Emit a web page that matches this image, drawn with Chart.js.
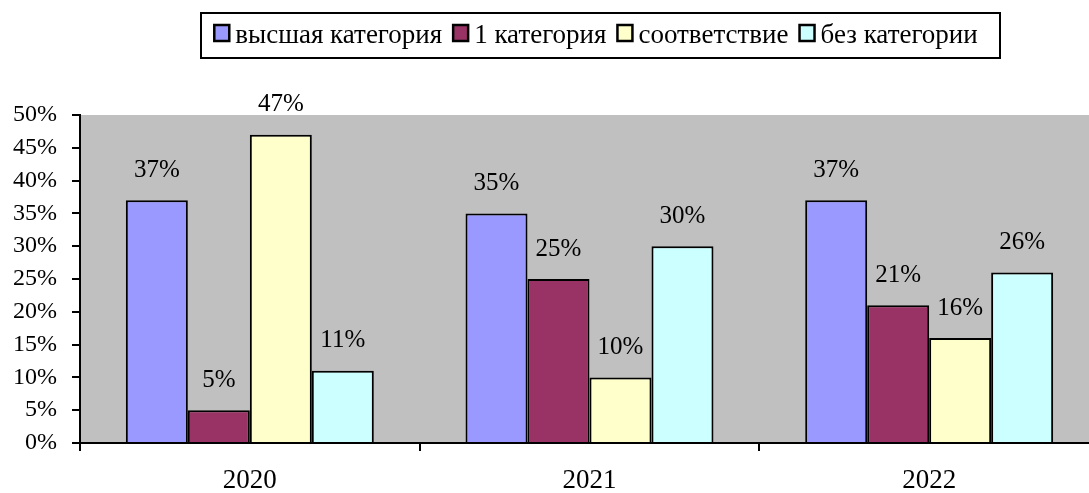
<!DOCTYPE html>
<html><head><meta charset="utf-8">
<script src="https://cdn.jsdelivr.net/npm/chart.js@4/dist/chart.umd.min.js"></script>
<style>html,body{margin:0;padding:0;background:#fff;overflow:hidden;width:1089px;height:493px}
#wrap{position:absolute;left:0;top:0;width:1110px;height:493px}</style>
</head><body><div id="wrap"><canvas id="c" width="1110" height="493"></canvas></div>
<script>
const categories = ['2020', '2021', '2022'];
const seriesNames = ['высшая категория', '1 категория', 'соответствие', 'без категории'];
const highest = [37, 35, 37];
const first = [5, 25, 21];
const conformity = [47, 10, 16];
const none = [11, 30, 26];
const yTicks = [0, 5, 10, 15, 20, 25, 30, 35, 40, 45, 50];
const colors = ['#9999FF', '#993366', '#FFFFCC', '#CCFFFF'];
const FONT = '"Liberation Serif", "Times New Roman", serif';

const bgPlugin = {
  id: 'bg',
  beforeDraw(chart) {
    const {ctx, chartArea: a} = chart;
    ctx.save(); ctx.fillStyle = '#C0C0C0';
    ctx.fillRect(a.left, a.top, a.right - a.left, a.bottom - a.top);
    ctx.restore();
  }
};
const labelPlugin = {
  id: 'vals',
  afterDatasetsDraw(chart) {
    const ctx = chart.ctx;
    ctx.save();
    ctx.font = '25px ' + FONT; ctx.fillStyle = '#000';
    ctx.textAlign = 'center'; ctx.textBaseline = 'middle';
    chart.data.datasets.forEach((ds, i) => {
      chart.getDatasetMeta(i).data.forEach((bar, j) => {
        ctx.fillText(ds.data[j] + '%', bar.x, bar.y - 30);
      });
    });
    ctx.restore();
  }
};
const legendPlugin = {
  id: 'boxLegend',
  afterDraw(chart) {
    const ctx = chart.ctx;
    ctx.save();
    ctx.fillStyle = '#fff'; ctx.strokeStyle = '#000'; ctx.lineWidth = 2;
    ctx.fillRect(201, 13, 799, 45); ctx.strokeRect(201, 13, 799, 45);
    ctx.font = '27px ' + FONT;
    const bw = 15, bh = 16, g1 = 6, g2 = 11;
    const widths = seriesNames.map(n => ctx.measureText(n).width);
    let total = widths.reduce((s, w) => s + bw + g1 + w, 0) + g2 * (seriesNames.length - 1);
    let x = 596 - total / 2;
    ctx.textBaseline = 'alphabetic'; ctx.textAlign = 'left';
    seriesNames.forEach((n, i) => {
      ctx.fillStyle = colors[i]; ctx.fillRect(x, 25, bw, bh);
      ctx.strokeStyle = '#000'; ctx.lineWidth = 2.5; ctx.strokeRect(x, 25, bw, bh);
      ctx.fillStyle = '#000'; ctx.fillText(n, x + bw + g1, 43);
      x += bw + g1 + widths[i] + g2;
    });
    ctx.restore();
  }
};

const series = [highest, first, conformity, none];
new Chart(document.getElementById('c'), {
  type: 'bar',
  data: {
    labels: categories,
    datasets: series.map((d, i) => ({
      label: seriesNames[i], data: d, backgroundColor: colors[i],
      borderColor: '#000', borderWidth: 2,
      categoryPercentage: 0.73, barPercentage: 1
    }))
  },
  options: {
    responsive: false, animation: false,
    layout: {padding: {top: 115, right: 11, left: 0, bottom: 0}},
    plugins: {legend: {display: false}, tooltip: {enabled: false}},
    scales: {
      x: {
        afterFit(s) { s.height = 50; },
        grid: {offset: true, drawOnChartArea: false, color: '#000', lineWidth: 2, tickLength: 8},
        border: {color: '#000', width: 2},
        ticks: {color: '#000', font: {family: FONT, size: 27}, padding: 14}
      },
      y: {
        min: 0, max: 50,
        afterFit(s) { s.width = 80; },
        afterBuildTicks(s) { s.ticks = yTicks.map(v => ({value: v})); },
        grid: {drawOnChartArea: false, color: '#000', lineWidth: 2, tickLength: 8},
        border: {color: '#000', width: 2},
        ticks: {color: '#000', font: {family: FONT, size: 24}, padding: 15,
          callback: v => v + '%'}
      }
    }
  },
  plugins: [bgPlugin, labelPlugin, legendPlugin]
});
</script></body></html>
